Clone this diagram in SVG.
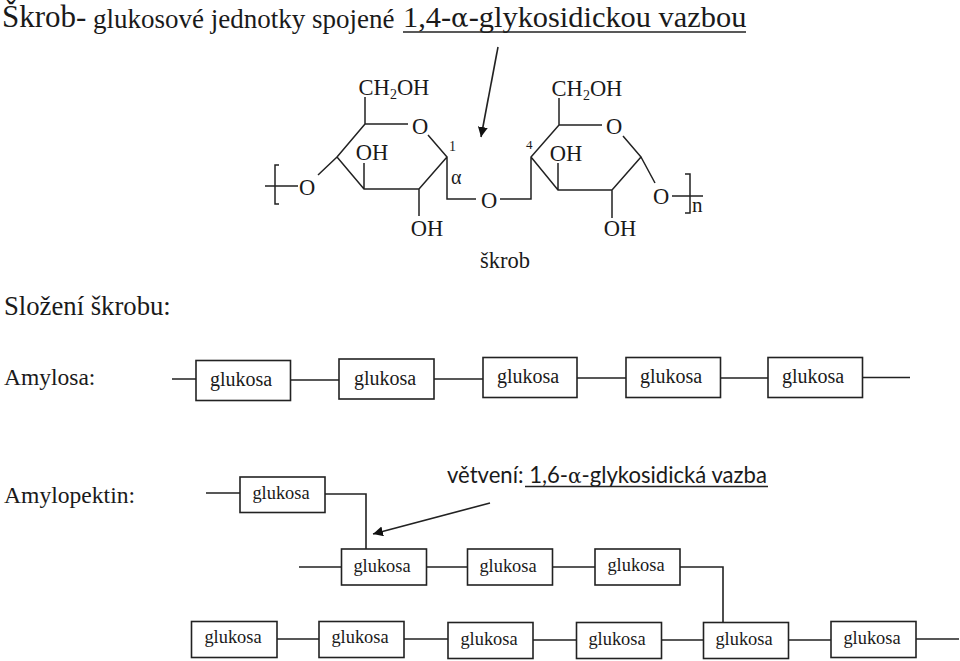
<svg xmlns="http://www.w3.org/2000/svg" width="960" height="661" viewBox="0 0 960 661">
<defs>
<marker id="ah" markerUnits="userSpaceOnUse" markerWidth="12" markerHeight="12" refX="10" refY="5" orient="auto"><path d="M0,0 L10,5 L0,10 Z" fill="#111"/></marker>
</defs>
<style>
text{font-family:"Liberation Serif","Times New Roman",serif;fill:#1a1a1a}
.b rect{fill:#fff;stroke:#222;stroke-width:1.6}
.b text{text-anchor:middle}
.a text{font-size:20px}
.p text{font-size:18.4px}
.l{fill:none;stroke:#222;stroke-width:1.6}
.s{fill:none;stroke:#222;stroke-width:1.5}
.c{font-size:22.5px;text-anchor:middle}
.u{stroke:#222;stroke-width:1.5}
</style>
<g id="title">
<text x="2" y="27" font-size="31">Škrob-</text>
<text x="93" y="28" font-size="27">glukosové jednotky spojené</text>
<text x="403" y="27" font-size="30.400">1,4-<tspan font-family="'DejaVu Serif',serif" font-size="26">α</tspan>-glykosidickou vazbou</text>
<line class="u" x1="403" y1="32" x2="746" y2="32"/>
</g>
<text x="4" y="315" font-size="26.700">Složení škrobu:</text>
<text x="4" y="385" font-size="23.500">Amylosa:</text>
<text x="4" y="503" font-size="23.600">Amylopektin:</text>
<g id="structure">
<path class="s" d="M365,97V124H408M428,135L447,157L419,189H364L337,157L365,124M337,157L318,175M364,163V189M419,189V216M447,157V199H476M500,199H531V157L559,125H602M623,136L641,157L612,190H558L531,157M558,163V190M612,190V218M641,157L655,183M559,98V125M672,196H703M685,174H690V213H685M279,165H275V204H279M265,186H298"/>
<text class="c" x="394" y="95">CH<tspan font-size="14" dy="4">2</tspan><tspan dy="-4">OH</tspan></text>
<text class="c" x="420" y="134">O</text>
<text class="c" x="372" y="160">OH</text>
<text class="c" x="307" y="195">O</text>
<text class="c" x="427" y="236">OH</text>
<text x="449" y="151" font-size="14">1</text>
<text x="451" y="184" font-size="20" font-family="'DejaVu Serif',serif">α</text>
<text class="c" x="489" y="208">O</text>
<text x="526" y="149" font-size="13" font-family="'Liberation Sans',sans-serif">4</text>
<text class="c" x="587" y="96">CH<tspan font-size="14" dy="4">2</tspan><tspan dy="-4">OH</tspan></text>
<text class="c" x="614" y="134">O</text>
<text class="c" x="566" y="161">OH</text>
<text class="c" x="661" y="204">O</text>
<text class="c" x="620" y="236">OH</text>
<text x="692" y="212" font-size="21">n</text>
<text class="c" x="505" y="268">škrob</text>
</g>
<g id="connectors">
<path class="l" d="M172,379H196M291,380H339M434,379H483M577,378H626M721,378H768M863,377.500H910"/>
<path class="l" d="M206,493H240M325,494H366V549M299,567H342M426,567H468M552,567H595M680,567H723V622"/>
<path class="l" d="M277,639H319M404,639H448M533,640H577M661,640H704M788,640H831M916,639H959"/>
<line class="l" x1="498" y1="47" x2="481" y2="137" marker-end="url(#ah)"/>
<line class="l" x1="490" y1="503" x2="373" y2="534" marker-end="url(#ah)"/>
</g>
<g class="b a">
<g id="a1"><rect x="196" y="360.500" width="94.500" height="40"/><text x="241" y="386">glukosa</text></g>
<g id="a2"><rect x="339" y="359" width="95" height="40"/><text x="385" y="385">glukosa</text></g>
<g id="a3"><rect x="483" y="357.500" width="94" height="40"/><text x="528" y="383">glukosa</text></g>
<g id="a4"><rect x="626" y="357.500" width="94.500" height="40"/><text x="671" y="383">glukosa</text></g>
<g id="a5"><rect x="768" y="357.500" width="94.500" height="40"/><text x="813" y="383">glukosa</text></g>
</g>
<g class="b p">
<g id="b1"><rect x="240" y="477" width="85" height="35.500"/><text x="281" y="499">glukosa</text></g>
<g id="c1"><rect x="341.500" y="549" width="85" height="36"/><text x="382" y="572">glukosa</text></g>
<g id="c2"><rect x="467.500" y="549" width="85" height="36"/><text x="508" y="572">glukosa</text></g>
<g id="c3"><rect x="595" y="549" width="85" height="36"/><text x="636" y="571">glukosa</text></g>
<g id="d1"><rect x="191.500" y="621.500" width="85.500" height="36"/><text x="233" y="643">glukosa</text></g>
<g id="d2"><rect x="319" y="621.500" width="85" height="36"/><text x="360" y="643">glukosa</text></g>
<g id="d3"><rect x="448" y="622.500" width="85" height="36"/><text x="489" y="645">glukosa</text></g>
<g id="d4"><rect x="576.500" y="622.500" width="85" height="36"/><text x="617" y="645">glukosa</text></g>
<g id="d5"><rect x="703.500" y="622.500" width="85" height="36"/><text x="744" y="645">glukosa</text></g>
<g id="d6"><rect x="831" y="621.500" width="85" height="36"/><text x="872" y="644">glukosa</text></g>
</g>
<g id="note">
<text x="447" y="483" font-size="22.100" style="font-family:Lato,'Open Sans',sans-serif">větvení: 1,6-<tspan style="font-family:'DejaVu Serif',serif" font-size="20">α</tspan>-glykosidická vazba</text>
<line class="u" x1="525" y1="486.500" x2="768" y2="486.500"/>
</g>
</svg>
